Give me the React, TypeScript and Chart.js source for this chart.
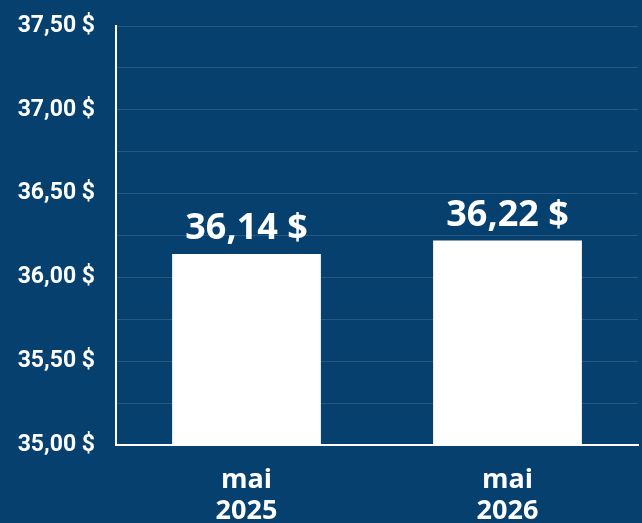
import React, { useEffect, useRef } from "react";
import { Chart, registerables } from "chart.js";

Chart.register(...registerables);

const categories: string[][] = [["mai", "2025"], ["mai", "2026"]];
const values: number[] = [36.14, 36.22];
const yMin = 35;
const yMax = 37.5;

const BG = "#06406f";

const fmt = (v: number) => v.toFixed(2).replace(".", ",") + " $";

const valueLabels = {
  id: "valueLabels",
  afterDatasetsDraw(chart: any) {
    const ctx = chart.ctx;
    const meta = chart.getDatasetMeta(0);
    ctx.save();
    ctx.fillStyle = "#ffffff";
    ctx.font = "bold 36px 'Open Sans'";
    ctx.textAlign = "center";
    ctx.textBaseline = "alphabetic";
    meta.data.forEach((bar: any, i: number) => {
      ctx.fillText(fmt(values[i]), bar.x, bar.y - 15);
    });
    ctx.restore();
  },
};

export default function App() {
  const ref = useRef<HTMLCanvasElement>(null);
  useEffect(() => {
    document.body.style.margin = "0";
    const chart = new Chart(ref.current!, {
      type: "bar",
      data: {
        labels: categories,
        datasets: [
          {
            data: values,
            backgroundColor: "#ffffff",
            borderWidth: 0,
            barPercentage: 0.57,
            categoryPercentage: 1,
          },
        ],
      },
      options: {
        animation: false,
        responsive: true,
        maintainAspectRatio: false,
        layout: { padding: { top: 26, right: 4, left: 0, bottom: 0 } },
        plugins: { legend: { display: false }, tooltip: { enabled: false } },
        scales: {
          x: {
            grid: { display: false, drawTicks: false },
            border: { color: "#ffffff", width: 2 },
            ticks: {
              color: "#ffffff",
              padding: 20,
              font: { family: "'Open Sans'", size: 27, weight: "bold", lineHeight: 1.15 },
            },
            afterFit: (s: any) => {
              s.height = 78;
              s.paddingLeft = 0;
              s.paddingRight = 0;
            },
          },
          y: {
            min: yMin,
            max: yMax,
            grid: { color: "rgba(255,255,255,0.13)", lineWidth: 1, drawTicks: false },
            border: { color: "#ffffff", width: 2 },
            ticks: {
              stepSize: 0.25,
              color: "#ffffff",
              padding: 21,
              autoSkip: false,
              font: { family: "Roboto", size: 23, weight: "bold" },
              callback: (v: any) => {
                const n = Number(v);
                return Math.abs(n * 2 - Math.round(n * 2)) < 1e-6 ? fmt(n) : "";
              },
            },
            afterFit: (s: any) => {
              s.width = 116;
              s.paddingTop = 0;
              s.paddingBottom = 0;
            },
          },
        },
      },
      plugins: [valueLabels],
    });
    return () => chart.destroy();
  }, []);
  return (
    <div style={{ position: "relative", width: 642, height: 523, background: BG }}>
      <canvas ref={ref} />
    </div>
  );
}
